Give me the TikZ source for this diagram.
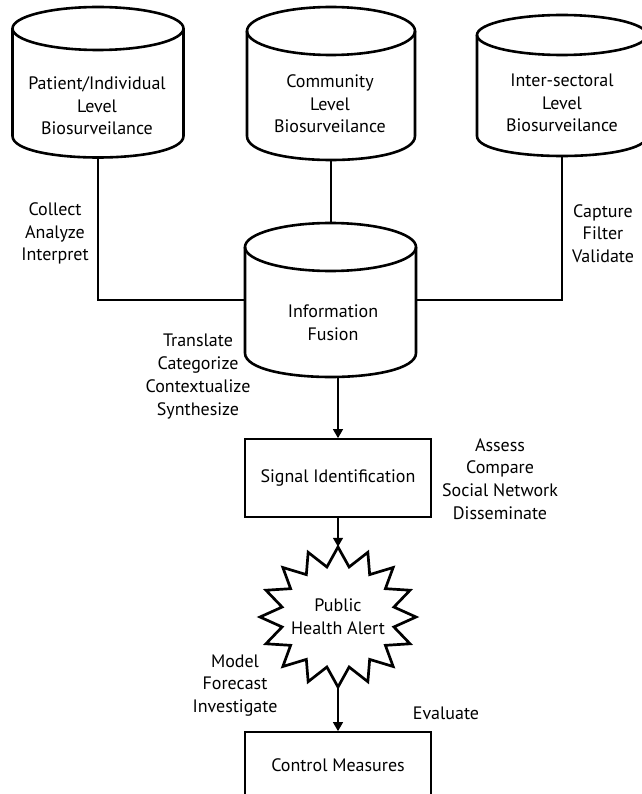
\documentclass[tikz,border=0pt]{standalone}
\usepackage{fontspec}
\setmainfont{PT Sans}
\usetikzlibrary{arrows.meta}
\tikzset{
  cylline/.style={line width=2.6pt, black},
  conn/.style={line width=1.4pt, black},
  arr/.style={line width=1.4pt, black, -{Triangle[length=9pt,width=10pt]}},
  boxnode/.style={draw, line width=1.8pt, minimum width=186, minimum height=78, inner sep=0pt, align=center},
  txt/.style={align=center, inner sep=0pt, font=\fontsize{18}{22.7}\selectfont},
  starline/.style={line width=2.7pt, black, line join=miter},
}
\newcommand\cylshape[6]{%
  \draw[cylline] (#2,#3) ellipse[x radius=#5, y radius=#6];
  \draw[cylline] (#2-#5,#3) -- (#2-#5,#4) .. controls (#2-#5,#4+1.3333*#6) and (#2+#5,#4+1.3333*#6) .. (#2+#5,#4) -- (#2+#5,#3);
  \coordinate (#1-t) at (#2,#3-#6);
  \coordinate (#1-b) at (#2,#4+#6);
  \coordinate (#1-l) at (#2-#5,{(#3+#4)/2});
  \coordinate (#1-r) at (#2+#5,{(#3+#4)/2});
}
\begin{document}
\begin{tikzpicture}[x=1pt,y=-1pt]
\useasboundingbox (0,0) rectangle (641,794);
% top cylinders
\cylshape{p}{98}{28.5}{136}{85.5}{21.5}
\cylshape{c}{331}{31}{136}{84}{24}
\cylshape{s}{562}{35}{136}{85}{20}
\node[txt] (ptxt) at (97,106) {Patient/Individual\\Level\\Biosurveilance};
\node[txt] (ctxt) at (330,104) {Community\\Level\\Biosurveilance};
\node[txt] (stxt) at (562,103) {Inter-sectoral\\Level\\Biosurveilance};
% information fusion
\cylshape{fus}{330.5}{247}{353}{85.5}{24}
\node[txt] (fustxt) at (333,322.5) {Information\\Fusion};
% connectors to fusion
\draw[conn] (p-b) |- (fus-l);
\draw[conn] (c-b) -- (c-b |- fus-t);
\draw[conn] (s-b) |- (fus-r);
% boxes and star
\node[boxnode, txt] (sig) at (338,478) {Signal Identification};
\node[minimum width=156, minimum height=140, inner sep=0pt, txt] (alert) at (338,617) {Public\\Health Alert};
\draw[starline] (338,547) \foreach \k in {1,...,31}{ -- ({338+(67.5+10.5*cos(\k*180))*cos(90-\k*11.25)},{617-(60.5+9.5*cos(\k*180))*sin(90-\k*11.25)}) } -- cycle;
\node[boxnode, txt, minimum height=66] (ctrl) at (338,765) {Control Measures};
% arrows
\draw[arr] (sig.north |- fus-b) -- (sig.north);
\draw[arr] (sig) -- (alert);
\draw[arr] (alert) -- (ctrl);
% labels
\node[txt] (l1) at (55,233.5) {Collect\\Analyze\\Interpret};
\node[txt] (l2) at (603,233.5) {Capture\\Filter\\Validate};
\node[txt] (l3) at (198,376.5) {Translate\\Categorize\\Contextualize\\Synthesize};
\node[txt] (l4) at (500,479) {Assess\\Compare\\Social Network\\Disseminate};
\node[txt] (l5) at (235,685.5) {Model\\Forecast\\Investigate};
\node[txt] (l6) at (446,713) {Evaluate};
\end{tikzpicture}
\end{document}
